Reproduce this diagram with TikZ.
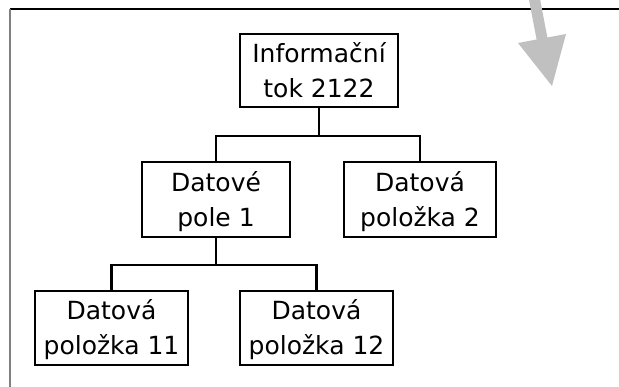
\documentclass[tikz,border=0pt]{standalone}
\usepackage{fontspec}
\setmainfont{DejaVu Sans}
\begin{document}
\begin{tikzpicture}[x=1pt,y=-1pt,
  orgbox/.style={draw=black,line width=2.9pt,fill=white,rectangle,inner sep=0pt,
    align=center,font=\fontsize{25}{35}\selectfont,minimum width=#1,
    text height=53.2pt,text depth=0pt},
  link/.style={draw=black,line width=2.9pt}]
\useasboundingbox (0,0) rectangle (619,386);
\begin{scope}
\clip (0,0) rectangle (619,386);
% frame lines
\draw[line width=1.4pt,black] (10,9) -- (620,9);
\draw[line width=1.4pt,gray] (10,9) -- (10,387);
% gray arrow
\fill[fill={rgb,255:red,192;green,192;blue,192}]
  (525.3,-19.4) -- (536.6,39.5) -- (518,43) -- (552,86) -- (566,34) -- (547.4,37.5) -- (536.1,-21.4) -- cycle;
\end{scope}
% nodes
\node[orgbox=158pt,minimum height=73pt] (top) at (319,70.5) {Informační\\tok 2122};
\node[orgbox=148pt,minimum height=75pt] (pole1) at (216,199.5) {Datové\\pole 1};
\node[orgbox=152pt,minimum height=75pt] (pol2) at (420,199.5) {Datová\\položka 2};
\node[orgbox=153pt,minimum height=74pt] (pol11) at (111.5,328) {Datová\\položka 11};
\node[orgbox=153pt,minimum height=74pt] (pol12) at (316.5,328) {Datová\\položka 12};
% connectors
\coordinate (j1) at (319,136);
\coordinate (j2) at (216,265);
\draw[link] (top.south) -- (j1);
\draw[link] (pole1.north) |- (j1) -| (pol2.north);
\draw[link] (pole1.south) -- (j2);
\draw[link] (pol11.north) |- (j2) -| (pol12.north);
\end{tikzpicture}
\end{document}
